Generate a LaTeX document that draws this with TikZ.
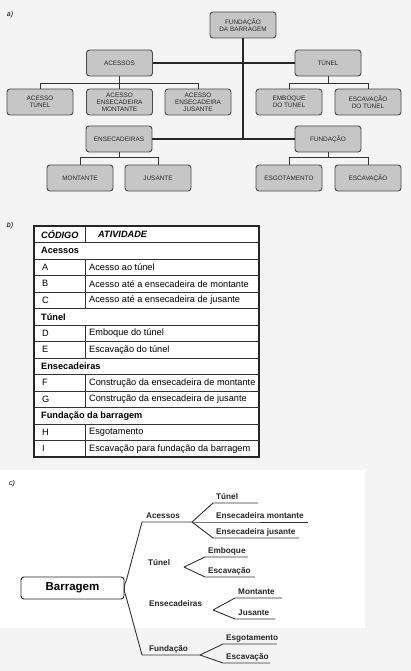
\documentclass[tikz,border=0pt]{standalone}
\usepackage{fontspec}
\setmainfont{Liberation Sans}

\tikzset{
    wbsbox/.style={draw=boxBorder, fill=boxFill, rounded corners=3pt, line width=0.9pt,
        minimum width=66pt, minimum height=26pt, inner sep=1pt, align=center,
        text=black!85, font=\fontsize{6.4}{7.2}\selectfont},
    mainline/.style={line width=1.3pt, draw=black!85},
    subline/.style={line width=0.9pt, draw=black!80},
    tabtext/.style={anchor=west, inner sep=0pt, font=\fontsize{9.2}{11}\selectfont},
    rootbox/.style={draw=black!85, fill=white, rounded corners=3pt, line width=0.9pt,
        minimum width=103pt, minimum height=22pt, font=\fontsize{11.5}{13}\selectfont\bfseries},
    branchlbl/.style={anchor=base west, inner sep=0pt, text=black!85,
        font=\fontsize{8.2}{10}\selectfont\bfseries},
    treeline/.style={line width=0.9pt, draw=black!80},
    partlbl/.style={inner sep=0pt, font=\fontsize{7}{8}\selectfont\itshape}
}

\begin{document}
\begin{tikzpicture}[x=1pt, y=-1pt]
    \definecolor{boxFill}{HTML}{C6C6C6}
    \definecolor{boxBorder}{HTML}{4A4A4A}
    \definecolor{bgGray}{HTML}{F4F4F4}

    % Background
    \fill[bgGray] (0,0) rectangle (411,671);
    \fill[white] (0,470) rectangle (365,628);
    \useasboundingbox (0,0) rectangle (411,671);

    % Part labels
    \node[partlbl] (partA) at (10,15) {a)};
    \node[partlbl] (partB) at (10,226) {b)};
    \node[partlbl] (partC) at (12,484) {c)};

    % ---------- a) breakdown structure ----------
    \node[wbsbox] (fundBarr) at (243,25) {FUNDAÇÃO\\DA BARRAGEM};
    \node[wbsbox] (acessos) at (119.5,63) {ACESSOS};
    \node[wbsbox] (tunel) at (328,63) {TÚNEL};
    \node[wbsbox] (ensec) at (119,139) {ENSECADEIRAS};
    \node[wbsbox] (fundacao) at (328,139) {FUNDAÇÃO};

    \node[wbsbox] (accTunel) at (40,102) {ACESSO\\TÚNEL};
    \node[wbsbox] (accMont) at (119.5,102) {ACESSO\\ENSECADEIRA\\MONTANTE};
    \node[wbsbox] (accJus) at (198,102) {ACESSO\\ENSECADEIRA\\JUSANTE};
    \node[wbsbox] (emboque) at (289,102) {EMBOQUE\\DO TÚNEL};
    \node[wbsbox] (escTunel) at (368,102) {ESCAVAÇÃO\\DO TÚNEL};

    \node[wbsbox] (montante) at (80,178) {MONTANTE};
    \node[wbsbox] (jusante) at (158,178) {JUSANTE};
    \node[wbsbox] (esgot) at (289,178) {ESGOTAMENTO};
    \node[wbsbox] (escFund) at (368,178) {ESCAVAÇÃO};

    % Draw trunk and main branches
    \coordinate (trunkEnd) at (243,139);
    \draw[mainline] (fundBarr.south) -- (trunkEnd);
    \draw[mainline] (acessos.east) -- (tunel.west);
    \draw[mainline] (ensec.east) -- (fundacao.west);

    % Draw sub-branches
    \foreach \child in {accTunel,accMont,accJus}
        \draw[subline] (acessos.south) -- ++(0,7) -| (\child.north);
    \foreach \child in {emboque,escTunel}
        \draw[subline] (tunel.south) -- ++(0,7) -| (\child.north);
    \foreach \child in {montante,jusante}
        \draw[subline] (ensec.south) -- ++(0,5) -| (\child.north);
    \foreach \child in {esgot,escFund}
        \draw[subline] (fundacao.south) -- ++(0,5) -| (\child.north);

    % ---------- b) table ----------
    \def\tabTop{226}
    \def\rowH{16.5}
    \fill[white] (34,226) rectangle (259,457);

    % Horizontal rules
    \foreach \i in {1,...,13}{
        \pgfmathsetmacro{\ry}{\tabTop+\rowH*\i}
        \draw[line width=0.7pt, black!80] (34,\ry) -- (259,\ry);
    }
    % Column divider (not on group rows)
    \foreach \i in {0,2,3,4,6,7,9,10,12,13}{
        \pgfmathsetmacro{\ra}{\tabTop+\rowH*\i}
        \pgfmathsetmacro{\rb}{\tabTop+\rowH*(\i+1)}
        \draw[line width=0.7pt, black!80] (85,\ra) -- (85,\rb);
    }
    \draw[line width=1.4pt, black!85] (34,226) rectangle (259,457);

    % Header
    \node[tabtext, font=\fontsize{9.2}{11}\selectfont\bfseries\itshape] (hdCode) at (41,{\tabTop+\rowH*0.5}) {CÓDIGO};
    \node[tabtext, font=\fontsize{9.2}{11}\selectfont\bfseries\itshape] (hdAct) at (98,{\tabTop+\rowH*0.5}) {ATIVIDADE};

    % Group rows
    \foreach \i/\grp in {1/Acessos, 5/Túnel, 8/Ensecadeiras, 11/Fundação da barragem}{
        \pgfmathsetmacro{\ry}{\tabTop+\rowH*(\i+0.5)}
        \node[tabtext, font=\fontsize{9.2}{11}\selectfont\bfseries] (grp\i) at (41,\ry) {\grp};
    }

    % Activity rows
    \foreach \i/\code/\act in {2/A/Acesso ao túnel,
                               3/B/Acesso até a ensecadeira de montante,
                               4/C/Acesso até a ensecadeira de jusante,
                               6/D/Emboque do túnel,
                               7/E/Escavação do túnel,
                               9/F/Construção da ensecadeira de montante,
                               10/G/Construção da ensecadeira de jusante,
                               12/H/Esgotamento,
                               13/I/Escavação para fundação da barragem}{
        \pgfmathsetmacro{\ry}{\tabTop+\rowH*(\i+0.5)}
        \node[tabtext] (code\code) at (42,\ry) {\code};
        \node[tabtext] (act\code) at (89,\ry) {\act};
    }

    % ---------- c) mind map ----------
    \node[rootbox] (barragem) at (72.5,588) {Barragem};

    \coordinate (accStart) at (142,522);
    \coordinate (accHub) at (192,522);
    \coordinate (funStart) at (142,655);
    \coordinate (funHub) at (200,655);

    % Draw main brace
    \draw[treeline] (accHub) -- (accStart) -- (127,578)
        to[out=-100,in=100] (barragem.east)
        to[out=-100,in=100] (127,600) -- (funStart) -- (funHub);

    \node[branchlbl] (lblAcessos) at (146,518) {Acessos};
    \node[branchlbl] (lblTunel) at (148,565) {Túnel};
    \node[branchlbl] (lblEnsec) at (149,606) {Ensecadeiras};
    \node[branchlbl] (lblFund) at (149,651) {Fundação};

    % Draw leaves: hub / knee / end of line / text
    \foreach \hx/\hy/\kx/\ky/\ex/\txt in {
            192/522/213/503/258/Túnel,
            192/522/213/522/308/Ensecadeira montante,
            192/522/213/538/299/Ensecadeira jusante,
            184/567/205/557/248/Emboque,
            184/567/205/577/255/Escavação,
            213/610/235/598/282/Montante,
            213/610/235/619/275/Jusante,
            200/655/223/644/277/Esgotamento,
            200/655/223/663/270/Escavação}{
        \coordinate (knee) at (\kx,\ky);
        \coordinate (leafEnd) at (\ex,\ky);
        \draw[treeline] (\hx,\hy) -- (knee) -- (leafEnd);
        \node[branchlbl] (leaf) at (\kx+3,\ky-3.5) {\txt};
    }

\end{tikzpicture}
\end{document}
